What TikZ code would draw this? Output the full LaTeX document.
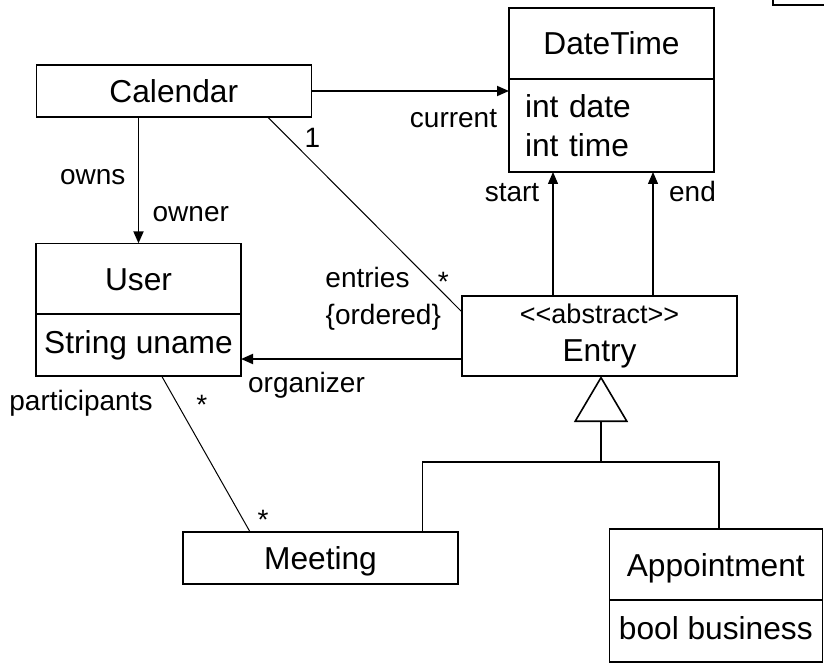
\documentclass[tikz,border=0pt]{standalone}
\usepackage{fontspec}
\setmainfont{Liberation Sans}
\usepackage{tikz}
\usetikzlibrary{positioning,arrows.meta}

\tikzset{
  class/.style={draw, line width=1.6pt, outer sep=0pt, minimum height=71pt,
    font=\fontsize{31.7}{39}\selectfont, text height=23pt, text depth=0pt},
  attrs/.style={draw, line width=1.6pt, outer sep=0pt,
    font=\fontsize{31.7}{39}\selectfont},
  lbl/.style={font=\fontsize{28}{34}\selectfont, anchor=base, inner sep=0pt},
  assoc/.style={line width=1.8pt, -{Triangle[length=12pt,width=10pt]}},
  thinline/.style={line width=1pt},
}

\begin{document}
\begin{tikzpicture}[x=1pt,y=-1pt]
    \useasboundingbox (0,0) rectangle (824,668);

    %% classes
    \node[class, minimum width=275pt, minimum height=52.3pt] (calendar) at (173.8,91) {Calendar};
    \node[class, minimum width=205pt] (datetime) at (611.5,43.5) {DateTime};
    \node[attrs, below=0pt of datetime, minimum width=205pt, minimum height=93pt,
          text width=173pt, inner xsep=16pt, align=left] (dtattr) {int date\\int time};
    \node[class, minimum width=205pt, minimum height=70.7pt] (user) at (138.5,278.7) {User};
    \node[attrs, below=0pt of user, minimum width=205pt, minimum height=61.7pt,
          text height=23pt, text depth=5pt] (uattr) {String uname};
    \node[draw, line width=1.6pt, outer sep=0pt, minimum width=275pt, minimum height=80pt,
          align=center, font=\fontsize{31.7}{38}\selectfont] (entry) at (599.5,336)
          {{\fontsize{27}{38}\selectfont <\kern0pt<abstract>\kern0pt>}\\Entry};
    \node[class, minimum width=275pt, minimum height=52.3pt] (meeting) at (320.5,558) {Meeting};
    \node[class, minimum width=213pt] (appt) at (715.8,564.5) {Appointment};
    \node[attrs, below=0pt of appt, minimum width=213pt, minimum height=61.7pt,
          text height=23pt, text depth=5pt] (aattr) {bool business};

    %% box running off the top edge
    \begin{scope}
        \clip (0,0) rectangle (824,668);
        \draw[line width=1.6pt] (773,-40) rectangle (900,5);
    \end{scope}

    %% associations
    \draw[assoc] (calendar) -- (calendar -| dtattr.west);
    \draw[assoc] (calendar.south -| user.north) -- (user.north);
    \draw[assoc] ([yshift=-23pt]entry.west) -- ([yshift=-23pt]entry.west -| uattr.east);

    \coordinate (startx) at (553,0);
    \coordinate (endx) at (653,0);
    \draw[assoc, line width=1.3pt] (entry.north -| startx) -- (dtattr.south -| startx);
    \draw[assoc, line width=1.3pt] (entry.north -| endx) -- (dtattr.south -| endx);

    \draw[thinline] ([xshift=94pt]calendar.south) -- ([yshift=24pt]entry.west);
    \draw[thinline] ([xshift=23pt]uattr.south) -- ([xshift=-70.5pt]meeting.north);

    %% generalization
    \coordinate (fork) at (601,462);
    \draw[line width=1.6pt] ([xshift=102pt]meeting.north) |- (fork) -| ([xshift=3pt]appt.north);
    \draw[line width=1.6pt, -{Triangle[open,length=46pt,width=54pt]}] (fork) -- (fork |- entry.south);

    %% role names and multiplicities
    \node[lbl] (current) at (453.5,128) {current};
    \node[lbl] (calone) at (312.5,148) {1};
    \node[lbl] (owns) at (92.7,185) {owns};
    \node[lbl] (owner) at (190.8,221.7) {owner};
    \node[lbl] (start) at (512,201.7) {start};
    \node[lbl] (end) at (692.5,201.7) {end};
    \node[lbl] (entries) at (367.5,287.3) {entries};
    \node[lbl] (ordered) at (383.3,324) {\{ordered\}};
    \node[lbl] (entrystar) at (443.3,291) {*};
    \node[lbl] (userstar) at (201.7,414) {*};
    \node[lbl] (meetstar) at (263,529) {*};
    \node[lbl] (participants) at (81,410) {participants};
    \node[lbl] (organizer) at (306.5,392) {organizer};
\end{tikzpicture}
\end{document}
